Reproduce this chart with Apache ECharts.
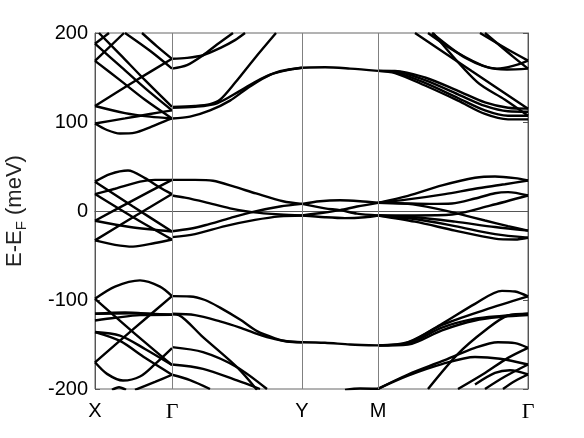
<!DOCTYPE html>
<html>
<head>
<meta charset="utf-8">
<script src="https://cdn.jsdelivr.net/npm/echarts@6/dist/echarts.min.js"></script>
<style>html,body{margin:0;padding:0;background:#fff;}#c{width:584px;height:438px;}</style>
</head>
<body>
<div id="c"></div>
<script>
// k-path positions of the high-symmetry points and their labels
const kTicks = [0, 77, 207, 283, 433];
const kLabels = ['X', 'Γ', 'Y', 'M', 'Γ'];
const kLines = [77, 207, 283];

// ---- upper bands (100..200 meV) ----
const upperXG = [
  [[0,188],[14,200]],
  [[0,168.7],[29,200]],
  [[4,200],[25,176],[50,147],[77,117]],
  [[0,188],[25,163],[50,138],[77,113]],
  [[0,168.7],[25,147],[50,125],[77,104]],
  [[30,200],[55,180],[77,160]],
  [[47,200],[62,185],[77,171]],
  [[0,118],[40,146],[77,171]],
  [[0,118],[30,110],[55,106],[77,104]],
  [[0,98.3],[30,104],[55,109],[77,113]],
  [[0,98.3],[12,91],[25,87],[40,88],[55,94],[70,101],[77,104]]
];
const upperGY = [
  [[77,171],[92,172],[108,175],[125,183],[140,192],[150,200]],
  [[77,160],[92,164],[108,175],[122,187],[138,200]],
  [[77,117],[100,118],[115,120],[125,125],[140,144],[160,172],[181,200]],
  [[77,116],[100,117],[122,121],[145,135],[165,148],[185,157],[207,161]],
  [[77,104],[95,106],[115,113],[135,124],[155,140],[175,153],[195,159],[207,161]]
];
const upperYM = [
  [[207,161],[230,161.5],[255,160],[283,157.5]]
];
const upperMG = [
  [[283,157.5],[300,157.5],[330,150],[363,135],[390,122],[413,116],[433,115]],
  [[283,157.5],[300,157],[330,147],[363,131],[390,118],[413,112],[433,111.5]],
  [[283,157.5],[300,156],[330,144],[363,127],[390,113],[413,107],[433,107]],
  [[283,157.5],[300,155],[330,141],[363,124],[390,109],[413,103],[433,103]],
  [[320,200],[377,157],[433,115]],
  [[338,200],[382,145],[410,125],[433,107]],
  [[333,200],[362,178],[392,161.6],[412,159],[433,160]],
  [[337,200],[372,171],[402,160],[418,163],[433,169]],
  [[385,200],[412,182],[433,169]],
  [[390,200],[418,173.5],[433,160]]
];

// ---- bands near the Fermi level ----
const fermiXG = [
  [[0,33],[15,41.5],[33,45.5],[50,37],[64,27],[77,19]],
  [[0,19],[20,25],[45,33],[60,35],[77,35]],
  [[0,33],[38,5],[77,-23]],
  [[0,19],[38,-7],[77,-32]],
  [[0,-11],[38,12],[77,35]],
  [[0,-33],[38,-7],[77,19]],
  [[0,-11],[35,-18],[77,-23]],
  [[0,-33],[20,-38],[38,-40],[60,-36],[77,-32]]
];
const fermiGY = [
  [[77,35],[100,35],[118,34],[140,27],[161,19.7],[188,11],[207,8]],
  [[77,17.4],[90,15],[110,10],[135,3],[157,-1.3],[185,-4],[207,-5]],
  [[77,-22.7],[95,-20],[110,-16],[135,-8],[157,-1.3],[185,5],[207,8]],
  [[77,-29.4],[100,-26],[130,-17],[160,-10],[185,-6],[207,-5]]
];
const fermiYM = [
  [[207,8],[225,11],[245,12],[265,11],[283,9.2]],
  [[207,8],[230,3],[245,1],[262,-3],[283,-5]],
  [[207,-5],[228,-2],[245,1],[262,5],[283,9.2]],
  [[207,-5],[230,-7],[250,-8],[270,-7],[283,-5]]
];
const fermiMG = [
  [[283,9.2],[313,17],[347,28.7],[380,37.3],[400,38.8],[420,37],[433,34.3]],
  [[283,9.2],[313,13],[350,19],[380,25],[410,30],[433,34.3]],
  [[283,9.2],[310,8.5],[335,8],[357,8.5],[380,14],[400,20],[413,21.2],[433,17.4]],
  [[283,-5],[320,-5],[357,-4],[395,6],[433,17.4]],
  [[283,9.2],[313,8],[340,3],[363,-3],[390,-10.7],[413,-17],[433,-22]],
  [[283,-5],[320,-7],[360,-12],[400,-18],[433,-22]],
  [[283,-5],[320,-9],[360,-17],[400,-26],[433,-30]],
  [[283,-5],[320,-12],[360,-22],[400,-31],[420,-32],[433,-30]]
];

// ---- lower bands (-100..-200 meV) ----
const lowerXG = [
  [[0,-98.7],[20,-85],[45,-78],[65,-85],[77,-95.7]],
  [[0,-98.7],[38,-136],[77,-173]],
  [[0,-170],[38,-133],[77,-95.7]],
  [[0,-115.5],[40,-115],[77,-116.6]],
  [[0,-123],[20,-120],[45,-117],[77,-116.6]],
  [[0,-115.5],[30,-114],[60,-116],[77,-116.6]],
  [[0,-136],[25,-140],[50,-155],[77,-173]],
  [[0,-136],[25,-146],[50,-165],[77,-184]],
  [[0,-170],[12,-183],[28,-190.5],[45,-186],[60,-172],[77,-154]],
  [[17,-201],[24,-198],[31,-201]],
  [[40,-201],[60,-192],[77,-184]]
];
const lowerGY = [
  [[77,-95.7],[95,-96],[110,-100],[125,-108.6],[145,-122],[162,-135],[180,-143],[192,-146.6],[207,-147.4]],
  [[77,-115.5],[100,-117],[125,-124],[145,-131],[162,-138],[180,-144],[192,-146.3],[207,-147.4]],
  [[77,-116],[84,-117],[108,-141.8],[142,-175.5],[162,-201]],
  [[77,-153],[108,-158.6],[142,-175.5],[172,-200]],
  [[77,-172.5],[108,-177.3],[142,-190.4],[165,-200]],
  [[77,-184],[95,-190],[115,-200]]
];
const lowerYM = [
  [[207,-147.4],[230,-148],[255,-150],[283,-151]],
  [[250,-201],[265,-199.5],[283,-199.8]]
];
const lowerMG = [
  [[283,-151],[313,-147.4],[347,-126.7],[380,-104.3],[407,-89.7],[420,-90.5],[433,-96]],
  [[283,-151],[313,-149],[347,-131],[380,-121],[407,-117.8],[433,-115.5]],
  [[283,-151],[313,-150],[347,-134],[380,-123],[407,-119],[433,-117]],
  [[283,-151],[313,-148],[347,-128],[390,-111],[433,-96]],
  [[333,-200],[363,-160.5],[390,-134.3],[413,-117.4],[433,-115.5]],
  [[283,-199.8],[313,-183.7],[347,-168.8],[380,-153.7],[403,-147.4],[420,-148.5],[433,-153.7]],
  [[283,-199.8],[313,-185],[347,-172],[380,-164],[405,-166],[433,-172.5]],
  [[363,-200],[390,-182],[413,-165],[433,-153.7]],
  [[390,-200],[410,-186],[433,-172.5]],
  [[408,-200],[420,-191],[433,-183.7]],
  [[380,-195],[400,-182],[415,-179],[433,-183.7]]
];

const allBands = [].concat(upperXG, upperGY, upperYM, upperMG,
                           fermiXG, fermiGY, fermiYM, fermiMG,
                           lowerXG, lowerGY, lowerYM, lowerMG);

const series = allBands.map(b => ({
  type: 'line', data: b, showSymbol: false, smooth: 0.3, silent: true,
  clip: true, lineStyle: { color: '#000', width: 2.4 }, z: 3
}));
series.push({
  type: 'line', data: [], silent: true,
  markLine: {
    silent: true, symbol: ['none', 'none'], label: { show: false },
    lineStyle: { color: '#808080', width: 1, type: 'solid' },
    data: kLines.map(v => ({ xAxis: v }))
  }
});

const chart = echarts.init(document.getElementById('c'), null, { renderer: 'canvas' });
chart.setOption({
  animation: false,
  backgroundColor: '#fff',
  grid: { left: 95, right: 56, top: 33, bottom: 49, containLabel: false, outerBoundsMode: 'none',
          show: true, borderColor: '#666', borderWidth: 1 },
  xAxis: {
    type: 'value', min: 0, max: 433,
    axisLine: { show: true, lineStyle: { color: '#555', width: 1 } },
    axisTick: { show: false },
    splitLine: { show: false },
    axisLabel: {
      customValues: kTicks, margin: 12, color: '#000',
      fontFamily: 'Liberation Sans', fontSize: 20,
      formatter: v => {
        const l = kLabels[kTicks.indexOf(v)];
        return l === 'Γ' ? '{g|Γ}' : l;
      },
      rich: { g: { fontFamily: 'Liberation Serif', fontSize: 22, color: '#000' } }
    }
  },
  yAxis: [{
    type: 'value', min: -200, max: 200, interval: 100,
    axisLine: { show: true, lineStyle: { color: '#555', width: 1 } },
    axisTick: { show: true, inside: true, length: 5, lineStyle: { color: '#555' } },
    splitLine: { show: false },
    axisLabel: { margin: 7, color: '#000', fontFamily: 'Liberation Sans', fontSize: 20 },
    name: '{a|E-E}{b|F}{a| (meV)}',
    nameLocation: 'middle', nameRotate: 90, nameGap: 66,
    nameTextStyle: {
      rich: {
        a: { fontFamily: 'Liberation Sans', fontSize: 22, color: '#222', verticalAlign: 'middle' },
        b: { fontFamily: 'Liberation Sans', fontSize: 15, color: '#222', verticalAlign: 'middle', padding: [13, 0, 0, 0] }
      }
    }
  }, {
    type: 'value', min: -200, max: 200, interval: 100, position: 'right',
    axisLine: { show: true, lineStyle: { color: '#555', width: 1 } },
    axisTick: { show: true, inside: true, length: 5, lineStyle: { color: '#555' } },
    splitLine: { show: false },
    axisLabel: { show: false }
  }],
  series: series
});
</script>
</body>
</html>
